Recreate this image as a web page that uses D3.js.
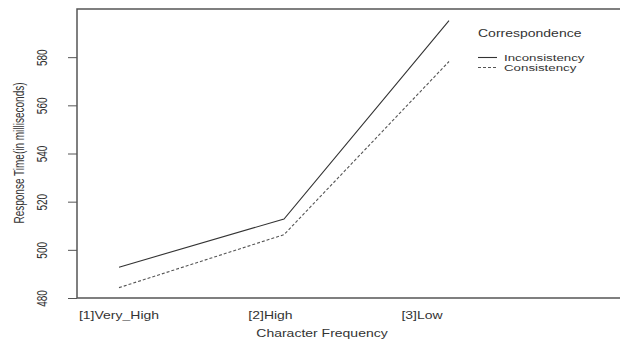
<!DOCTYPE html>
<html lang="en">
<head>
    <meta charset="UTF-8">
    <title>Response Time by Character Frequency</title>
    <script src="https://d3js.org/d3.v7.min.js"></script>
    <style>
        body { margin: 0; background: #fff; }
        text { font-family: "Liberation Sans", Arial, sans-serif; fill: #333; }
    </style>
</head>
<body>
    <div id="chart"></div>

    <script>
        // data
        const categories = ['[1]Very_High', '[2]High', '[3]Low'];
        const inconsistency = [492.8, 512.8, 595.2];
        const consistency = [484.3, 506.3, 578.2];
        const yTicks = [480, 500, 520, 540, 560, 580];
        const seriesNames = ['Inconsistency', 'Consistency'];

        const width = 620, height = 339;
        const sx = 1.4; // the original picture is stretched sideways

        const svg = d3.select('#chart')
            .append('svg')
            .attr('width', width)
            .attr('height', height);

        // scales
        const x = d3.scalePoint()
            .domain(categories)
            .range([119, 449]);

        // the category labels sit a little left of the points in the original
        const xLabel = d3.scalePoint()
            .domain(categories)
            .range([119, 422]);

        const y = d3.scaleLinear()
            .domain([480, 600])
            .range([298, 9]);

        // frame (right side runs off the picture)
        svg.append('path')
            .attr('d', 'M640,9H77V298H640')
            .attr('fill', 'none')
            .attr('stroke', '#555')
            .attr('stroke-width', 1.5);

        // y axis ticks
        const yAxis = svg.append('g')
            .attr('transform', 'translate(77,0)')
            .call(d3.axisLeft(y).tickValues(yTicks).tickSize(9).tickSizeOuter(0).tickFormat(d3.format('d')));
        yAxis.select('.domain').remove();
        yAxis.selectAll('line').attr('stroke', '#555');
        yAxis.selectAll('text')
            .attr('x', null)
            .attr('text-anchor', 'middle')
            .attr('font-size', 10)
            .attr('fill', '#333')
            .attr('transform', `translate(-35,0) scale(${sx},1) rotate(-90)`)
            .attr('dy', '0.35em');

        // x axis labels, no ticks
        svg.append('g')
            .selectAll('text')
            .data(categories)
            .enter()
            .append('text')
            .attr('text-anchor', 'middle')
            .attr('font-size', 10)
            .attr('transform', d => `translate(${xLabel(d)},319) scale(${sx},1)`)
            .text(d => d);

        // lines
        const line = d3.line()
            .x((d, i) => x(categories[i]))
            .y(d => y(d));

        svg.append('path')
            .datum(inconsistency)
            .attr('d', line)
            .attr('fill', 'none')
            .attr('stroke', '#333')
            .attr('stroke-width', 1.1);

        svg.append('path')
            .datum(consistency)
            .attr('d', line)
            .attr('fill', 'none')
            .attr('stroke', '#555')
            .attr('stroke-width', 1.1)
            .attr('stroke-dasharray', '3,2');

        // axis titles
        svg.append('text')
            .attr('text-anchor', 'middle')
            .attr('font-size', 10)
            .attr('transform', `translate(322,337) scale(${sx},1)`)
            .text('Character Frequency');

        svg.append('text')
            .attr('text-anchor', 'middle')
            .attr('font-size', 10)
            .attr('transform', `translate(24,153) scale(${sx},1) rotate(-90)`)
            .text('Response Time(in milliseconds)');

        // legend
        const legend = svg.append('g');
        legend.append('text')
            .attr('font-size', 10)
            .attr('transform', `translate(478,37) scale(${sx},1)`)
            .text('Correspondence');

        legend.selectAll('.leg-line')
            .data(seriesNames)
            .enter()
            .append('line')
            .attr('x1', 478).attr('x2', 497)
            .attr('y1', (d, i) => 57.5 + i * 10)
            .attr('y2', (d, i) => 57.5 + i * 10)
            .attr('stroke', (d, i) => i ? '#555' : '#333')
            .attr('stroke-width', 1.1)
            .attr('stroke-dasharray', (d, i) => i ? '3,2' : null);

        legend.selectAll('.leg-text')
            .data(seriesNames)
            .enter()
            .append('text')
            .attr('font-size', 9.5)
            .attr('transform', (d, i) => `translate(504,${61 + i * 10}) scale(${sx},1)`)
            .text(d => d);
    </script>
</body>
</html>
